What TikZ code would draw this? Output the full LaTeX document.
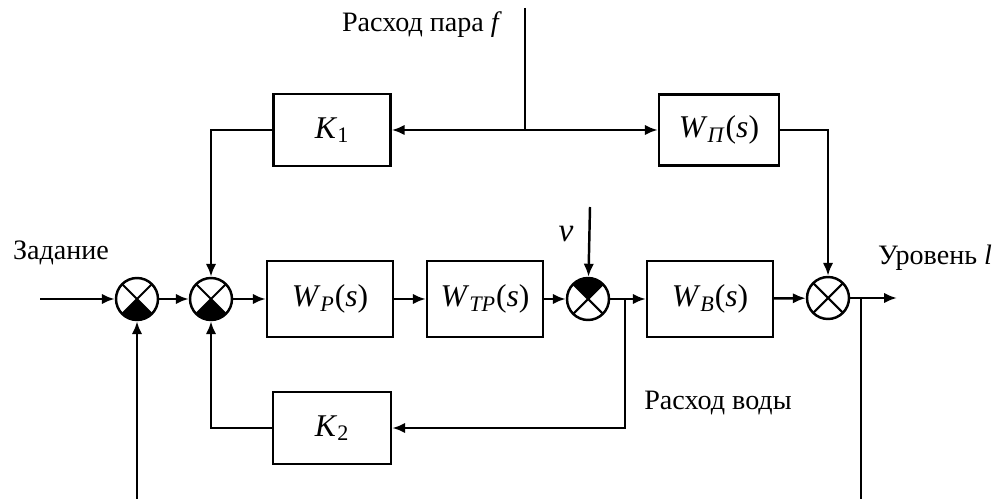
\documentclass[tikz,border=0pt]{standalone}
\usepackage{fontspec}
\setmainfont{Liberation Serif}
\usetikzlibrary{positioning,arrows.meta}

\newcommand{\Wtf}[1]{\textit{W}\textsubscript{\textit{#1}}(\textit{s})}
\newcommand{\Kc}[1]{\textit{K}\textsubscript{#1}}

\begin{document}
\begin{tikzpicture}[x=0.02cm, y=-0.02cm, line width=1.4pt, >={Latex[length=2.6mm,width=2.1mm]}]
    \tikzstyle{block}=[rectangle, draw, fill=white, minimum height=1.52cm, inner sep=0pt, font=\fontsize{18}{20}\selectfont]
    \tikzstyle{signal}=[font=\fontsize{16}{18}\selectfont, inner sep=1pt]
    \tikzset{summer/.style 2 args={circle, draw, fill=white, minimum size=0.84cm, inner sep=0pt,
        path picture={
            \fill[black] (path picture bounding box.center) -- (path picture bounding box.#1)
                -- (path picture bounding box.#2) -- cycle;
            \draw[line width=1.2pt] (path picture bounding box.north west) -- (path picture bounding box.south east)
                (path picture bounding box.north east) -- (path picture bounding box.south west);}}}

    \useasboundingbox (0,0) rectangle (999,499);

    % Main row
    \node[summer={south west}{south east}] (S1) at (137,299) {};
    \node[summer={south west}{south east}] (S2) at (211,299) {};
    \node[block, minimum width=2.52cm] (WP) at (330,299) {\Wtf{Р}};
    \node[block, minimum width=2.32cm] (WTP) at (485,299) {\Wtf{ТР}};
    \node[summer={north west}{north east}] (S3) at (588,299) {};
    \node[block, minimum width=2.52cm] (WB) at (710,299) {\Wtf{В}};
    \node[summer={center}{center}] (S4) at (828,298) {};

    % Steam flow branch
    \node[block, minimum width=2.34cm, minimum height=1.44cm] (K1) at (332,130) {\Kc{1}};
    \node[block, minimum width=2.4cm, minimum height=1.42cm] (WPi) at (719,130) {\Wtf{П}};

    % Water flow feedback
    \node[block, minimum width=2.36cm, minimum height=1.44cm] (K2) at (332,428) {\Kc{2}};

    % Signals
    \coordinate (IN) at (40,299);
    \coordinate (F) at (525,8);
    \coordinate (FJ) at (525,130);
    \coordinate (NU) at (590,207);
    \coordinate (BW) at (625,299);
    \coordinate (OUT) at (897,298);
    \coordinate (BL) at (861,298);
    \coordinate (FB) at (861,508);

    \node[signal] (Tin) at (61,253) {Задание};
    \node[signal] (Tout) at (935,258) {Уровень \textit{l}};
    \node[signal] (Tf) at (422,25) {Расход пара \textit{f}};
    \node[signal] (Tw) at (718,403) {Расход воды};
    \node[signal, font=\fontsize{19}{20}\selectfont] (Tnu) at (566,234) {\textit{ν}};

    % Connections
    \draw[->] (IN) -- (S1);
    \draw[->] (S1) -- (S2);
    \draw[->] (S2) -- (WP);
    \draw[->] (WP) -- (WTP);
    \draw[->] (WTP) -- (S3);
    \draw[->] (S3) -- (WB);
    \draw[->] (WB) -- (S4);
    \draw[->] (S4) -- (OUT);
    \draw[->] (NU) -- (S3);

    \draw (F) -- (FJ);
    \draw[->] (FJ) -- (K1);
    \draw[->] (FJ) -- (WPi);
    \draw[->] (K1.west) -| (S2.north);
    \draw[->] (WPi.east) -| (S4.north);

    \draw[->] (BW) |- (K2.east);
    \draw[->] (K2.west) -| (S2.south);

    \draw[->] (BL) -- (FB) -| (S1.south);
\end{tikzpicture}
\end{document}
